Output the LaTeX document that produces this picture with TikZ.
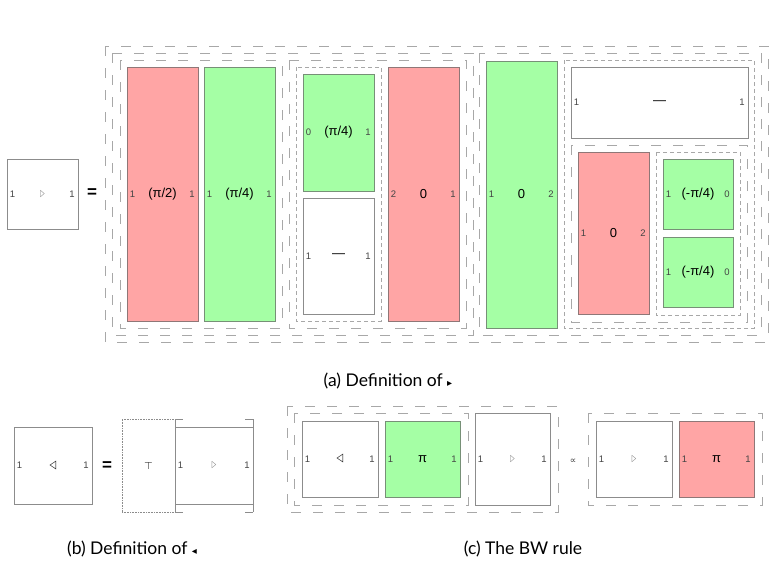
\documentclass[tikz,border=0pt]{standalone}
\usepackage{fontspec}
\setmainfont{Liberation Sans}
\newfontfamily\symf{DejaVu Sans}
\newfontfamily\capf{Lato}
\definecolor{redf}{HTML}{FFA5A5}
\definecolor{greenf}{HTML}{A5FFA5}
\definecolor{bord}{HTML}{8C8C8C}
\definecolor{redb}{HTML}{8F7777}
\definecolor{greenb}{HTML}{779077}
\definecolor{frm}{HTML}{A8A8A8}
\definecolor{portc}{HTML}{444444}
\newcommand\rtri{{\symf\fontsize{9.5}{9.5}\selectfont\color{portc!80}\scalebox{0.6}[1]{▷}}}
\newcommand\ltri{{\symf\bfseries\fontsize{11.5}{11.5}\selectfont\scalebox{0.75}[1]{◁}}}
\newcommand\mybox[9]{%
  \node[#2, minimum width={#5-#3}, minimum height={#6-#4}] (#1) at ({(#3+#5)/2},{(#4+#6)/2}) {};
  \node[mainlbl] (#1-m) at (#1.center) {#8};
  \node[portlbl] (#1-l) at ([xshift=5.5pt]#1.west) {#7};
  \node[portlbl] (#1-r) at ([xshift=-6pt]#1.east) {#9};
}
\begin{document}
\begin{tikzpicture}[x=1pt,y=-1pt,
  box/.style={draw=bord, line width=0.8pt, fill=white, inner sep=0pt, outer sep=0pt},
  redbox/.style={box, fill=redf, draw=redb},
  greenbox/.style={box, fill=greenf, draw=greenb},
  seqframe/.style={draw=frm, line width=0.8pt, dash pattern=on 10pt off 12pt},
  parframe/.style={draw=frm, line width=0.8pt, dash pattern=on 4pt off 3pt},
  mainlbl/.style={font=\fontsize{13}{15}\selectfont, text=black, inner sep=0pt},
  portlbl/.style={font=\fontsize{9.5}{11}\selectfont, text=portc, inner sep=0pt},
  capt/.style={font=\capf\fontsize{17.5}{20}\selectfont, inner sep=0pt},
  eqsign/.style={font=\bfseries\fontsize{17}{17}\selectfont, inner sep=0pt},
]
\useasboundingbox (0,0) rectangle (776,565);

% ---------- (a) ----------
\draw[seqframe] (105,46) rectangle (768,342);
\draw[seqframe] (112,53) rectangle (473,335);
\draw[seqframe] (120,60) rectangle (282,328);
\draw[seqframe] (289,60) rectangle (466,328);
\draw[parframe] (296,67) rectangle (381,321);
\draw[seqframe] (479,53) rectangle (761,335);
\draw[parframe] (564,60) rectangle (754,328);
\draw[seqframe] (571,145) rectangle (747,322);
\draw[parframe] (656,152) rectangle (740,315);

\mybox{s0}{box}{7}{159}{78}{229}{1}{\rtri}{1}
\node[eqsign] (eqa) at (92,193) {=};
\mybox{ra}{redbox}{127}{67}{198}{321}{1}{(π/2)}{1}
\mybox{ga}{greenbox}{204}{67}{275}{321}{1}{(π/4)}{1}
\mybox{gb}{greenbox}{303}{74}{374}{191}{0}{(π/4)}{1}
\mybox{wb}{box}{303}{198}{374}{314}{1}{—}{1}
\mybox{rb}{redbox}{388}{67}{459}{321}{2}{0}{1}
\mybox{gc}{greenbox}{486}{61}{557}{328}{1}{0}{2}
\mybox{wc}{box}{571}{67}{748}{138}{1}{—}{1}
\mybox{rc}{redbox}{578}{152}{649}{314}{1}{0}{2}
\mybox{gd}{greenbox}{663}{159}{733}{229}{1}{(-π/4)}{0}
\mybox{ge}{greenbox}{663}{237}{733}{307}{1}{(-π/4)}{0}

\node[capt] (capa) at (388,381) {(a) Definition of {\symf\fontsize{10}{10}\selectfont ▸}};

% ---------- (b) ----------
\mybox{bl}{box}{14}{427}{92}{504}{1}{\ltri}{1}
\node[eqsign] (eqb) at (107,466) {=};
\node[draw=bord, line width=0.6pt, densely dotted, minimum width=53, minimum height=93, inner sep=0pt] (tp) at (148.5,465.5) {};
\node[mainlbl, text=portc, font=\symf\fontsize{10}{10}\selectfont] (tp-m) at (tp.center) {⊤};
\mybox{br}{box}{175}{427}{253}{504}{1}{\rtri}{1}
\draw[draw=bord, line width=0.8pt] (175,419) -- (175,512);
\draw[draw=bord, line width=0.8pt] (253,419) -- (253,512);
\draw[draw=bord, line width=0.8pt] (175,419) -- (183,419) (245,419) -- (253,419);
\draw[draw=bord, line width=0.8pt] (175,512) -- (183,512) (245,512) -- (253,512);
\node[capt] (capb) at (132,549) {(b) Definition of {\symf\fontsize{10}{10}\selectfont ◂}};

% ---------- (c) ----------
\draw[seqframe] (287,406) rectangle (558,512);
\draw[seqframe] (294,413) rectangle (468,505);
\mybox{cl}{box}{302}{421}{378}{497}{1}{\ltri}{1}
\mybox{cg}{greenbox}{385}{421}{460}{497}{1}{π}{1}
\mybox{cr}{box}{475}{413}{550}{505}{1}{\rtri}{1}
\node[font=\symf\fontsize{9}{9}\selectfont, text=portc, inner sep=0pt] (prop) at (573,461) {∝};
\draw[seqframe] (588,413) rectangle (762,505);
\mybox{dr}{box}{596}{421}{672}{497}{1}{\rtri}{1}
\mybox{dp}{redbox}{679}{421}{754}{497}{1}{π}{1}
\node[capt] (capc) at (523,549) {(c) The BW rule};
\end{tikzpicture}
\end{document}
